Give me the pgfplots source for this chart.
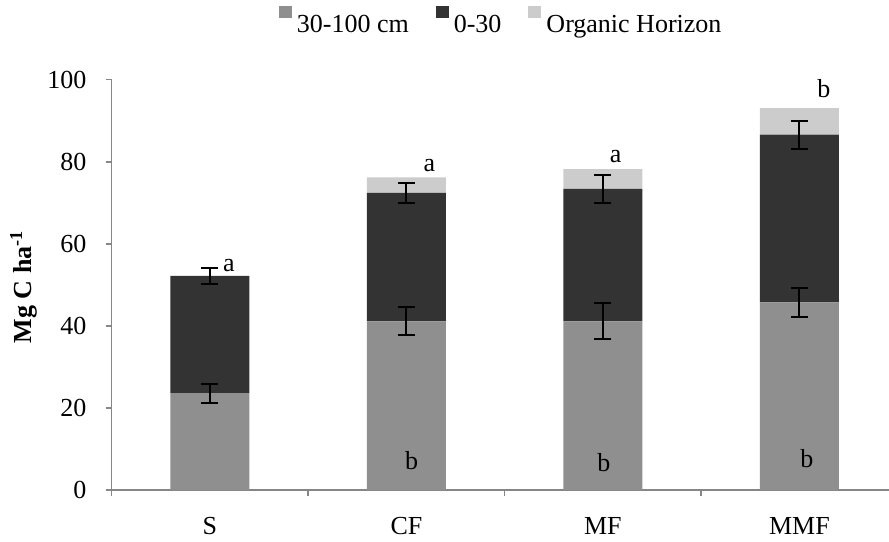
\documentclass[border=0pt]{standalone}
\usepackage{fontspec}
\setmainfont{Liberation Serif}
\usepackage{pgfplots}
\pgfplotsset{compat=1.18}
\definecolor{cdeep}{RGB}{143,143,143}
\definecolor{cmid}{RGB}{51,51,51}
\definecolor{clight}{RGB}{204,204,204}
\definecolor{axgray}{RGB}{134,134,134}
\begin{document}
\fontsize{26}{31}\selectfont
\begin{tikzpicture}[font=\fontsize{26}{31}\selectfont]
\path[use as bounding box] (-111.7pt,-51pt) rectangle (777.3pt,490pt);
\begin{axis}[
  scale only axis, width=777.3pt, height=410.3pt,
  anchor=south west, at={(0pt,0pt)},
  ybar stacked, bar width=79pt,
  xmin=-0.5, xmax=3.456, ymin=0, ymax=100,
  axis x line*=bottom, axis y line*=left,
  axis line style={-, draw=axgray, line width=1.5pt},
  tick align=outside, major tick length=6pt,
  tick style={draw=axgray, line width=1.5pt},
  ytick={0,20,...,100},
  yticklabel style={anchor=east, inner sep=0pt, xshift=-19pt},
  /pgf/number format/assume math mode=true,
  xtick={-0.5,0.5,1.5,2.5}, xticklabels={{},{},{},{}},
  extra x ticks={0,1,2,3}, extra x tick labels={S,CF,MF,MMF},
  extra x tick style={major tick length=0pt, tick style={draw=none}},
  xticklabel style={anchor=north, inner sep=0pt, yshift=-27pt},
  ylabel={\bfseries Mg C ha\textsuperscript{-1}},
  ylabel style={at={(axis description cs:-0.1135,0.495)}, anchor=center},
  legend style={at={(axis description cs:0.503,1.14)}, anchor=center, draw=none, fill=none,
    legend columns=3, /tikz/every even column/.append style={column sep=22pt},
    nodes={inner xsep=5pt}},
  legend image code/.code={\fill[#1] (0pt,7pt) rectangle (13pt,19pt);},
  error bars/error bar style={black, line width=2pt},
  error bars/error mark options={rotate=90, black, mark size=8.5pt, line width=2pt},
  after end axis/.code={
    \node at (axis cs:0.097,54.6) {a};
    \node at (axis cs:1.117,79.1) {a};
    \node at (axis cs:1.027,7.1) {b};
    \node at (axis cs:2.065,81.3) {a};
    \node at (axis cs:2.005,6.7) {b};
    \node at (axis cs:3.125,97.8) {b};
    \node at (axis cs:3.038,7.6) {b};
  },
]
\addplot[fill=cdeep, draw=none, error bars/.cd, y dir=both, y explicit]
  coordinates {(0,23.6) +- (0,2.3) (1,41.1) +- (0,3.4) (2,41.1) +- (0,4.4) (3,45.7) +- (0,3.45)};
\addplot[fill=cmid, draw=none, error bars/.cd, y dir=both, y explicit]
  coordinates {(0,28.6) +- (0,1.9) (1,31.3) +- (0,2.4) (2,32.3) +- (0,3.4) (3,40.9) +- (0,3.45)};
\addplot[fill=clight, draw=none]
  coordinates {(0,0) (1,3.8) (2,4.8) (3,6.5)};
\legend{30-100 cm, 0-30, Organic Horizon}
\end{axis}
\end{tikzpicture}
\end{document}
